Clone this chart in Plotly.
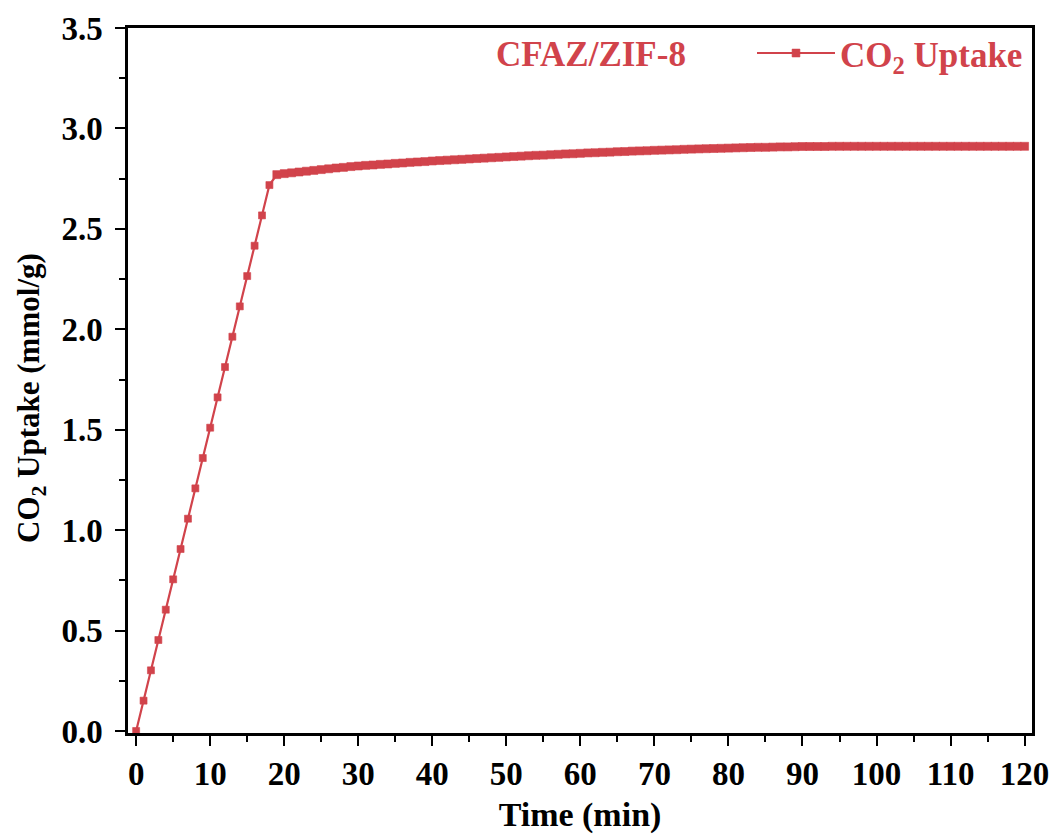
import plotly.graph_objects as go

# Time (min) and CO2 uptake (mmol/g)
time_min = list(range(0, 121))
uptake = [
    0.000, 0.151, 0.302, 0.453, 0.604, 0.755, 0.906, 1.057, 1.208, 1.359,
    1.510, 1.661, 1.812, 1.963, 2.114, 2.265, 2.416, 2.567, 2.718, 2.770,
    2.775, 2.779, 2.783, 2.787, 2.791, 2.795, 2.799, 2.803, 2.806, 2.810,
    2.813, 2.816, 2.818, 2.821, 2.823, 2.826, 2.828, 2.831, 2.833, 2.835,
    2.838, 2.840, 2.842, 2.844, 2.846, 2.848, 2.850, 2.852, 2.854, 2.856,
    2.858, 2.860, 2.862, 2.864, 2.866, 2.867, 2.869, 2.871, 2.873, 2.874,
    2.876, 2.878, 2.879, 2.881, 2.882, 2.884, 2.885, 2.887, 2.888, 2.889,
    2.891, 2.892, 2.893, 2.894, 2.896, 2.897, 2.898, 2.899, 2.900, 2.901,
    2.902, 2.903, 2.904, 2.905, 2.906, 2.906, 2.907, 2.908, 2.908, 2.909,
    2.910, 2.910, 2.910, 2.910, 2.911, 2.911, 2.911, 2.911, 2.911, 2.911,
    2.911, 2.911, 2.911, 2.911, 2.911, 2.911, 2.911, 2.911, 2.911, 2.911,
    2.911, 2.911, 2.911, 2.911, 2.911, 2.911, 2.911, 2.911, 2.911, 2.911,
    2.911,
]
x_ticks = list(range(0, 121, 10))
y_ticks = [0.0, 0.5, 1.0, 1.5, 2.0, 2.5, 3.0, 3.5]
series_name = "CO<sub>2</sub> Uptake"
sample_label = "CFAZ/ZIF-8"
x_title = "Time (min)"
y_title = "CO<sub>2</sub> Uptake (mmol/g)"

RED = "#D1434B"
FONT = "Liberation Serif"

# marker sizes: sparse points in the linear part, overlapping dense band after
marker_sizes = [7 if t < 19 else 8 for t in time_min]

fig = go.Figure()
fig.add_trace(go.Scatter(
    x=time_min, y=uptake, mode="lines+markers", name=series_name,
    line=dict(color=RED, width=2.2),
    marker=dict(symbol="square", size=marker_sizes, color=RED, opacity=1,
                line=dict(width=0.6, color=RED)),
))

axis_common = dict(
    showline=True, linecolor="black", linewidth=2.5, mirror=True,
    ticks="outside", ticklen=10, tickwidth=2, tickcolor="black",
    showgrid=False, zeroline=False, automargin=False,
    tickfont=dict(family=FONT, size=33, color="black", weight="bold"),
)

fig.update_xaxes(
    **axis_common, range=[-1.1, 121], tickvals=x_ticks,
    minor=dict(dtick=5, tick0=0, ticks="outside", ticklen=6, tickwidth=2, tickcolor="black"),
    title=dict(text="<b>" + x_title + "</b>", font=dict(family=FONT, size=34, color="black"), standoff=14),
)
fig.update_yaxes(
    **axis_common, range=[-0.01, 3.5], tickvals=y_ticks,
    tickformat=".1f", ticklabelstandoff=6,
    minor=dict(dtick=0.25, tick0=0, ticks="outside", ticklen=6, tickwidth=2, tickcolor="black"),
)

# y-axis title placed as a rotated annotation
fig.add_annotation(
    x=(31 - 128) / 904, y=1 - (398 - 28) / 705, xref="paper", yref="paper",
    xanchor="center", yanchor="middle", textangle=-90,
    text="<b>" + y_title + "</b>", showarrow=False,
    font=dict(family=FONT, size=31, color="black"),
)

fig.add_annotation(
    x=(591 - 128) / 904, y=1 - (54 - 28) / 705, xref="paper", yref="paper",
    xanchor="center", yanchor="middle",
    text="<b>" + sample_label + "</b>", showarrow=False,
    font=dict(family=FONT, size=35, color=RED),
)

fig.update_layout(
    width=1052, height=834,
    margin=dict(l=128, r=20, t=28, b=101),
    paper_bgcolor="white", plot_bgcolor="white",
    showlegend=True,
    legend=dict(
        x=(752 - 128) / 904, y=1.006, xanchor="left", yanchor="top",
        bgcolor="rgba(0,0,0,0)", itemwidth=78,
        font=dict(family=FONT, size=35, color=RED, weight="bold"),
    ),
)

fig.write_html("out.html")
